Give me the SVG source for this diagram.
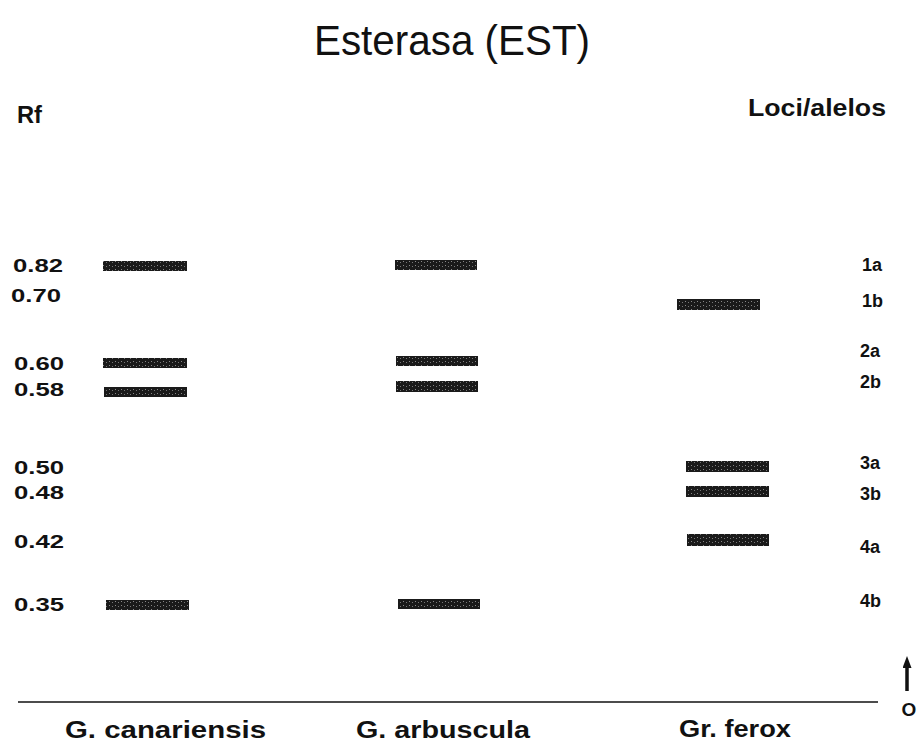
<svg xmlns="http://www.w3.org/2000/svg" width="917" height="745" viewBox="0 0 917 745">
  <style>
    text { font-family: "Liberation Sans", Arial, sans-serif; fill: #111; }
    .title { font-size: 43px; }
    .hdr { font-size: 24px; font-weight: bold; }
    .lbl { font-size: 18px; font-weight: bold; }
    .sp { font-size: 23px; font-weight: bold; }
    .band { fill: url(#grain); }
  </style>
  <defs>
    <pattern id="grain" width="6" height="4" patternUnits="userSpaceOnUse">
      <rect width="6" height="4" fill="#1a1a1a"/>
      <rect x="1" y="1" width="1" height="1" fill="#888"/>
      <rect x="4" y="2" width="1" height="1" fill="#777"/>
    </pattern>
    <marker id="head" markerWidth="12" markerHeight="9" refX="3" refY="4.5" orient="auto" markerUnits="userSpaceOnUse">
      <path d="M0,0 L12,4.5 L0,9 Z" fill="#111"/>
    </marker>
  </defs>

  <text class="title" x="314" y="55" textLength="276" lengthAdjust="spacingAndGlyphs">Esterasa (EST)</text>
  <text class="hdr" x="17" y="123" textLength="25" lengthAdjust="spacingAndGlyphs">Rf</text>
  <text class="hdr" x="748" y="116" textLength="138" lengthAdjust="spacingAndGlyphs">Loci/alelos</text>

  <!-- Rf scale -->
  <g id="rf-values">
    <text class="lbl" x="13" y="272" textLength="50" lengthAdjust="spacingAndGlyphs">0.82</text>
    <text class="lbl" x="11" y="302" textLength="50" lengthAdjust="spacingAndGlyphs">0.70</text>
    <text class="lbl" x="14" y="370" textLength="50" lengthAdjust="spacingAndGlyphs">0.60</text>
    <text class="lbl" x="14" y="396" textLength="50" lengthAdjust="spacingAndGlyphs">0.58</text>
    <text class="lbl" x="14" y="474" textLength="50" lengthAdjust="spacingAndGlyphs">0.50</text>
    <text class="lbl" x="14" y="499" textLength="50" lengthAdjust="spacingAndGlyphs">0.48</text>
    <text class="lbl" x="14" y="548" textLength="50" lengthAdjust="spacingAndGlyphs">0.42</text>
    <text class="lbl" x="14" y="611" textLength="50" lengthAdjust="spacingAndGlyphs">0.35</text>
  </g>

  <!-- loci / alleles -->
  <g id="loci">
    <text class="lbl" x="862" y="271">1a</text>
    <text class="lbl" x="862" y="307">1b</text>
    <text class="lbl" x="860" y="357">2a</text>
    <text class="lbl" x="860" y="388">2b</text>
    <text class="lbl" x="860" y="469">3a</text>
    <text class="lbl" x="860" y="500">3b</text>
    <text class="lbl" x="860" y="553">4a</text>
    <text class="lbl" x="860" y="607">4b</text>
  </g>

  <!-- lane: G. canariensis -->
  <g id="lane-canariensis">
    <rect class="band" x="103" y="261" width="84" height="10"/>
    <rect class="band" x="103" y="358" width="84" height="10"/>
    <rect class="band" x="104" y="387" width="83" height="10"/>
    <rect class="band" x="106" y="600" width="83" height="10"/>
    <text class="sp" x="65" y="738" textLength="201" lengthAdjust="spacingAndGlyphs">G. canariensis</text>
  </g>

  <!-- lane: G. arbuscula -->
  <g id="lane-arbuscula">
    <rect class="band" x="395" y="260" width="82" height="10"/>
    <rect class="band" x="396" y="356" width="82" height="10"/>
    <rect class="band" x="396" y="381" width="82" height="11"/>
    <rect class="band" x="398" y="599" width="82" height="10"/>
    <text class="sp" x="356" y="738" textLength="174" lengthAdjust="spacingAndGlyphs">G. arbuscula</text>
  </g>

  <!-- lane: Gr. ferox -->
  <g id="lane-ferox">
    <rect class="band" x="677" y="299" width="83" height="11"/>
    <rect class="band" x="686" y="461" width="83" height="11"/>
    <rect class="band" x="686" y="486" width="83" height="11"/>
    <rect class="band" x="687" y="534" width="82" height="12"/>
    <text class="sp" x="679" y="737" textLength="112" lengthAdjust="spacingAndGlyphs">Gr. ferox</text>
  </g>

  <!-- origin line and migration direction -->
  <g id="connectors">
    <line x1="18" y1="702" x2="878" y2="702" stroke="#111" stroke-width="1.5"/>
    <line x1="907" y1="691" x2="907" y2="665" stroke="#111" stroke-width="3.5" marker-end="url(#head)"/>
  </g>
  <text x="909" y="716" text-anchor="middle" font-size="19" font-weight="bold">O</text>
</svg>
